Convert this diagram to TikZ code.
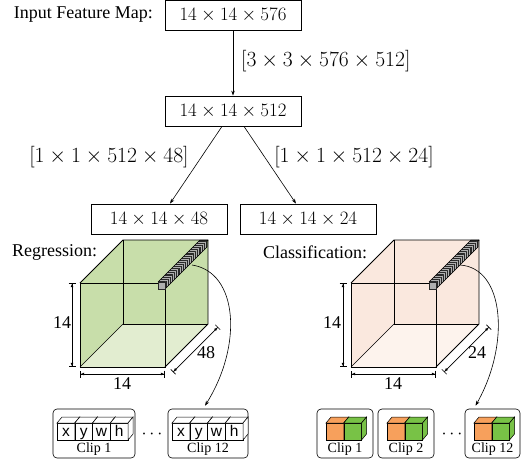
\RequirePackage{fix-cm}
\documentclass[tikz,border=0pt]{standalone}
\usepackage[no-math]{fontspec}
\setmainfont{Liberation Serif}
\newfontfamily\arialfont{Liberation Sans}
\usetikzlibrary{arrows.meta,calc}
\definecolor{regfill}{RGB}{200,222,170}
\definecolor{regfloor}{RGB}{226,237,208}
\definecolor{clsfill}{RGB}{250,232,222}
\definecolor{clsfloor}{RGB}{253,243,237}
\definecolor{orangec}{RGB}{247,160,92}
\definecolor{greenc}{RGB}{120,194,70}
\definecolor{bardark}{RGB}{40,40,40}
\definecolor{barlight}{RGB}{175,175,175}
\newcommand\minicube[4]{%
  \filldraw[fill=#2, line width=0.5pt] (#1,423) rectangle ++(17.75,17);
  \filldraw[fill=#2, line width=0.5pt] (#1,423) -- ++(5,-6) -- ++(17.75,0) -- ++(-5,6) -- cycle;
  \filldraw[fill=#2, line width=0.5pt] ({#1+17.75},423) -- ++(5,-6) -- ++(0,17) -- ++(-5,6) -- cycle;
  \node[font=\arialfont\fontsize{15.5}{16}\selectfont, inner sep=0pt, anchor=base] (#4) at ({#1+8.875},436.5) {#3};
}
\begin{document}
\begin{tikzpicture}[x=1pt,y=-1pt,
  font=\fontsize{18}{22}\selectfont,
  dimbox/.style={draw, line width=0.8pt, minimum width=136pt, minimum height=30pt, inner sep=0pt, font=\fontsize{18.9}{22}\selectfont},
  biglabel/.style={font=\fontsize{21.6}{24}\selectfont, inner sep=0pt},
  conn/.style={-{Stealth[length=5pt,width=3.5pt]}, line width=0.6pt},
  cubeedge/.style={line width=0.8pt},
  dimline/.style={{Bar[width=7pt] Latex[length=3.5pt,width=3pt]}-{Latex[length=3.5pt,width=3pt] Bar[width=7pt]}, line width=0.7pt},
  clipbox/.style={draw, rounded corners=4pt, line width=0.6pt, minimum height=49pt, inner sep=0pt},
  cliptext/.style={font=\fontsize{14}{16}\selectfont, inner sep=0pt},
  stripe/.style={draw=barlight, line width=0.4pt}
]
\useasboundingbox (0,0) rectangle (526,463);

% top boxes
\node[dimbox] (b1) at (233,15) {$14\times14\times576$};
\node[dimbox] (b2) at (233,111) {$14\times14\times512$};
\node[dimbox] (b48) at (159,219) {$14\times14\times48$};
\node[dimbox] (b24) at (308,219) {$14\times14\times24$};
\node[anchor=east, inner sep=0pt] (ifm) at (153,15) {Input Feature Map:};

\draw[conn] (b1.south) -- (b2.north);
\draw[conn] ($(b2.south)+(-11,0)$) -- ($(b48.north)+(11,0)$);
\draw[conn] ($(b2.south)+(11,0)$) -- ($(b24.north)+(-12,0)$);
\node[biglabel, anchor=west] (l1) at (241,61) {$[3\times3\times576\times512]$};
\node[biglabel] (l2) at (109,157) {$[1\times1\times512\times48]$};
\node[biglabel] (l3) at (354,157) {$[1\times1\times512\times24]$};

\node[anchor=west, inner sep=0pt] (reg) at (12,252) {Regression:};
\node[anchor=west, inner sep=0pt] (cls) at (263,252) {Classification:};

% cubes
\foreach \sx/\fc/\flc/\dl in {0/regfill/regfloor/48, 271/clsfill/clsfloor/24} {
\begin{scope}[shift={(\sx,0)}]
  \fill[\fc] (80,283) -- (123,240) -- (208,240) -- (208,324) -- (165,367) -- (80,367) -- cycle;
  \fill[\flc] (80,367) -- (165,367) -- (208,324) -- (123,324) -- cycle;
  \draw[line width=0.6pt] (123,240) -- (123,324) -- (208,324);
  \draw[line width=0.6pt] (123,324) -- (80,367);
  \draw[cubeedge] (80,283) rectangle (165,367);
  \draw[cubeedge] (80,283) -- (123,240) -- (208,240) -- (208,324) -- (165,367);
  \draw[cubeedge] (165,283) -- (208,240);
  % bar of cells
  \fill[bardark] (158,282) -- (165,282) -- (207,240) -- (200,240) -- cycle;
  \fill[bardark] (165,282) -- (165,289) -- (207,247) -- (207,240) -- cycle;
  \foreach \i in {1,...,19} {
    \draw[stripe] ({158+\i*2.1},{282-\i*2.1}) -- ++(7,0) -- ++(0,7);
  }
  \draw[line width=0.5pt] (158,282) -- (200,240) -- (207,240) -- (207,247) -- (165,289);
  \filldraw[fill=barlight, draw=bardark, line width=0.5pt] (158,282) rectangle (165,289);
  % dimension lines
  \draw[dimline] (72,283) -- (72,367);
  \draw[dimline] (80,374) -- (165,374);
  \draw[dimline] (173,372) -- (218,327);
\end{scope}
}
\node (d1) at (62,323) {14};
\node (d2) at (122,384) {14};
\node (d3) at (206,353) {48};
\node (d4) at (332,323) {14};
\node (d5) at (393,384) {14};
\node (d6) at (477,353) {24};

% clip boxes, regression
\node[clipbox, minimum width=82pt] (rc1) at (94,433.5) {};
\node[clipbox, minimum width=80pt] (rc12) at (208,433.5) {};
\node (rdots) at (152,434) {$\cdots$};
\foreach \l [count=\k from 0] in {x,y,w,h} {
  \minicube{57+\k*17.75}{white}{\l}{ra\k}
  \minicube{172+\k*17.75}{white}{\l}{rb\k}
}
\node[cliptext] (rt1) at (94,449) {Clip 1};
\node[cliptext] (rt12) at (208,449) {Clip 12};

% clip boxes, classification
\node[clipbox, minimum width=56pt] (cc1) at (345,433.5) {};
\node[clipbox, minimum width=56pt] (cc2) at (406,433.5) {};
\node[clipbox, minimum width=55pt] (cc12) at (492.5,433.5) {};
\node (cdots) at (452,434) {$\cdots$};
\foreach \xo [count=\k] in {326,387,474} {
  \minicube{\xo}{orangec}{}{co\k}
  \minicube{\xo+17.75}{greenc}{}{cg\k}
}
\node[cliptext] (ct1) at (345,449) {Clip 1};
\node[cliptext] (ct2) at (406,449) {Clip 2};
\node[cliptext] (ct12) at (492.5,449) {Clip 12};

% curved connectors
\coordinate (rs) at (192,265);
\coordinate (cs) at (460,265);
\draw[conn] (rs) .. controls (238,272) and (243,345) .. ($(rc12.north)+(-3,-3)$);
\draw[conn] (cs) .. controls (505,268) and (510,345) .. ($(cc12.north)+(-17,-3)$);
\end{tikzpicture}
\end{document}
